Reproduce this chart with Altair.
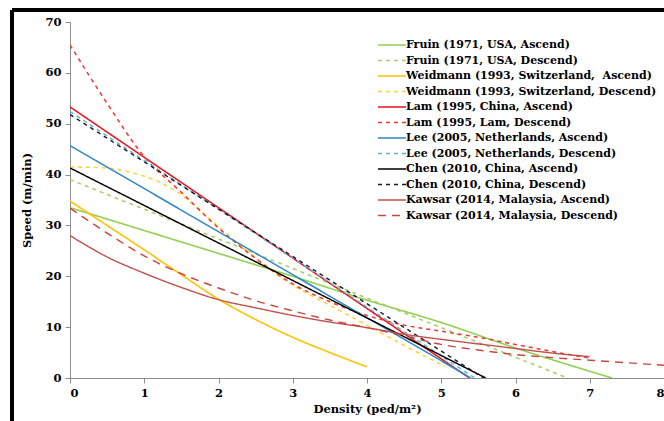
import altair as alt
import pandas as pd

# Series names, in legend order
series_names = [
    "Fruin (1971, USA, Ascend)",
    "Fruin (1971, USA, Descend)",
    "Weidmann (1993, Switzerland,\u00a0 Ascend)",
    "Weidmann (1993, Switzerland, Descend)",
    "Lam (1995, China, Ascend)",
    "Lam (1995, Lam, Descend)",
    "Lee (2005, Netherlands, Ascend)",
    "Lee (2005, Netherlands, Descend)",
    "Chen (2010, China, Ascend)",
    "Chen (2010, China, Descend)",
    "Kawsar (2014, Malaysia, Ascend)",
    "Kawsar (2014, Malaysia, Descend)",
]

# Speed-density relations (density in ped/m², speed in m/min)
fruin_asc_density = [0, 1, 2, 3, 4, 5, 6, 7.3]
fruin_asc_speed = [33.5, 29.0, 24.5, 20.0, 15.3, 10.9, 5.9, 0.0]

fruin_desc_density = [0, 6.7]
fruin_desc_speed = [39.0, 0.0]

weidmann_asc_density = [0, 0.5, 1, 1.5, 2, 2.5, 3, 3.5, 4]
weidmann_asc_speed = [34.8, 30.0, 25.2, 20.3, 15.5, 11.5, 8.0, 5.0, 2.2]

weidmann_desc_density = [0, 0.5, 0.8, 1.25, 1.5, 1.9, 2.3, 2.6, 2.9, 3.5, 4, 4.5, 5.05]
weidmann_desc_speed = [41.5, 41.3, 40.5, 38.2, 36.0, 31.0, 26.0, 22.5, 19.2, 14.3, 10.4, 6.4, 2.3]

lam_asc_density = [0, 5.38]
lam_asc_speed = [53.3, 0.0]

lam_desc_density = [0, 0.5, 1, 1.5, 2, 2.5, 3, 3.5, 4, 4.5, 5, 5.5, 6, 6.5, 7]
lam_desc_speed = [65.5, 54.0, 43.5, 36.5, 29.5, 23.5, 18.5, 15.0, 12.3, 10.4, 9.2, 8.0, 6.6, 5.2, 3.9]

lee_asc_density = [0, 5.4]
lee_asc_speed = [45.7, 0.0]

lee_desc_density = [0, 5.45]
lee_desc_speed = [52.4, 0.0]

chen_asc_density = [0, 5.6]
chen_asc_speed = [41.3, 0.0]

chen_desc_density = [0, 5.57]
chen_desc_speed = [51.8, 0.0]

kawsar_asc_density = [0, 0.5, 1, 1.5, 2, 2.5, 3, 3.5, 4, 4.5, 5, 5.5, 6, 6.5, 7]
kawsar_asc_speed = [28.0, 23.8, 20.6, 17.8, 15.4, 13.8, 12.3, 11.0, 9.9, 8.6, 7.6, 6.7, 5.8, 4.9, 4.2]

kawsar_desc_density = [0, 0.5, 1, 1.5, 2, 2.5, 3, 3.5, 4, 4.5, 5, 5.5, 6, 6.5, 7, 7.5, 8]
kawsar_desc_speed = [33.4, 28.5, 24.0, 20.5, 17.7, 15.2, 13.2, 11.4, 9.9, 8.3, 6.6, 5.5, 4.6, 4.0, 3.5, 3.0, 2.5]

curves = [
    (fruin_asc_density, fruin_asc_speed),
    (fruin_desc_density, fruin_desc_speed),
    (weidmann_asc_density, weidmann_asc_speed),
    (weidmann_desc_density, weidmann_desc_speed),
    (lam_asc_density, lam_asc_speed),
    (lam_desc_density, lam_desc_speed),
    (lee_asc_density, lee_asc_speed),
    (lee_desc_density, lee_desc_speed),
    (chen_asc_density, chen_asc_speed),
    (chen_desc_density, chen_desc_speed),
    (kawsar_asc_density, kawsar_asc_speed),
    (kawsar_desc_density, kawsar_desc_speed),
]

line_colors = [
    "#92D050", "#A9CF6A", "#FFC000", "#FFD339", "#E8141B", "#F0373A",
    "#2F86C8", "#5BB5D5", "#000000", "#1A1A2E", "#C0504D", "#C9463F",
]
line_dashes = [
    [1, 0], [4, 4], [1, 0], [4, 4], [1, 0], [4, 4],
    [1, 0], [4, 4], [1, 0], [4, 4], [1, 0], [8, 6],
]
line_widths = [1.6, 1.4, 2.0, 1.6, 2.2, 1.6, 1.6, 1.6, 2.2, 1.6, 1.1, 2.6]

rows = []
for name, (dens, spd) in zip(series_names, curves):
    for i, (d, s) in enumerate(zip(dens, spd)):
        rows.append({"series": name, "density": d, "speed": s, "idx": i})
df = pd.DataFrame(rows)

serif = "DejaVu Serif"

# Legend symbol: a horizontal stroke twice as long as the symbol box
legend = alt.Legend(
    title=None,
    orient="none",
    legendX=314,
    legendY=15,
    symbolType="M-2,0L2,0",
    symbolSize=196,
    symbolFillColor="transparent",
    labelFont=serif,
    labelFontWeight="bold",
    labelFontSize=11,
    labelColor="#000000",
    labelLimit=400,
    rowPadding=2.5,
    labelOffset=6,
)

lines = alt.Chart(df).mark_line(interpolate="monotone", clip=True).encode(
    x=alt.X(
        "density:Q",
        scale=alt.Scale(domain=[0, 8], nice=False),
        axis=alt.Axis(
            values=list(range(9)),
            title="Density (ped/m²)",
            grid=False,
            format="d",
        ),
    ),
    y=alt.Y(
        "speed:Q",
        scale=alt.Scale(domain=[0, 70], nice=False),
        axis=alt.Axis(
            values=list(range(0, 71, 10)),
            title="Speed (m/min)",
            grid=False,
        ),
    ),
    color=alt.Color(
        "series:N",
        sort=series_names,
        scale=alt.Scale(domain=series_names, range=line_colors),
        legend=legend,
    ),
    strokeDash=alt.StrokeDash(
        "series:N",
        sort=series_names,
        scale=alt.Scale(domain=series_names, range=line_dashes),
        legend=legend,
    ),
    strokeWidth=alt.StrokeWidth(
        "series:N",
        sort=series_names,
        scale=alt.Scale(domain=series_names, range=line_widths),
        legend=legend,
    ),
    order=alt.Order("idx:Q"),
)

# Black frame around the figure (left and top edges)
frame_left = alt.Chart(df).mark_rule(color="#000000", strokeWidth=2.5).encode(
    x=alt.value(-58), y=alt.value(-12), y2=alt.value(420)
)
frame_top = alt.Chart(df).mark_rule(color="#000000", strokeWidth=2.5).encode(
    x=alt.value(-58), x2=alt.value(620), y=alt.value(-12)
)

chart = (
    alt.layer(frame_left, frame_top, lines)
    .properties(
        width=594,
        height=356,
        autosize=alt.AutoSizeParams(type="none"),
        padding={"left": 70, "top": 22, "right": 0, "bottom": 43},
    )
    .configure_view(stroke=None)
    .configure_axis(
        domainColor="#8C8C8C",
        tickColor="#8C8C8C",
        tickSize=5,
        labelFont=serif,
        labelFontWeight="bold",
        labelFontSize=11.5,
        labelColor="#000000",
        titleFont=serif,
        titleFontWeight="bold",
        titleFontSize=11.5,
        titleColor="#000000",
    )
    .configure_axisY(labelPadding=4, titlePadding=12)
    .configure_axisX(labelPadding=4, titlePadding=5)
)

chart.save("out.html", embed_options={"renderer": "svg", "actions": False})
